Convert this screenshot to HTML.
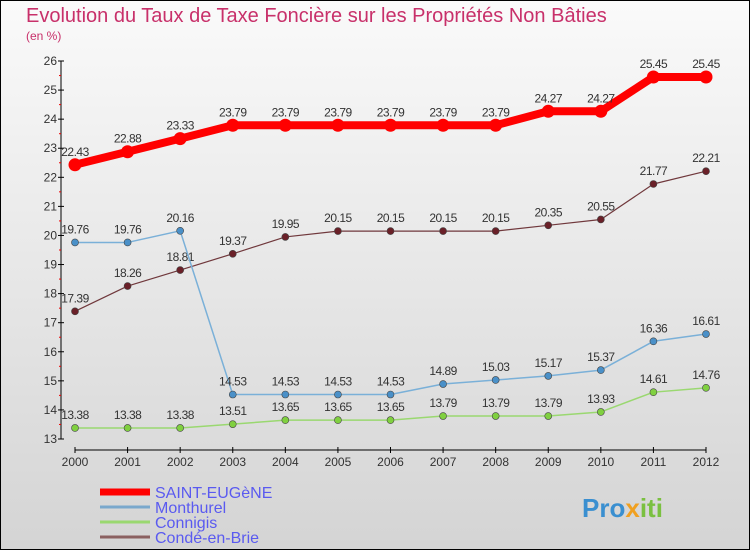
<!DOCTYPE html>
<html><head><meta charset="utf-8"><style>
body{margin:0}
svg{display:block;font-family:"Liberation Sans",sans-serif}
</style></head><body>
<svg id="c" width="750" height="550">
<defs><linearGradient id="bg" x1="0" y1="0" x2="0" y2="1"><stop offset="0" stop-color="#fafafa"/><stop offset="1" stop-color="#d4d4d4"/></linearGradient></defs>
<rect x="0.5" y="0.5" width="749" height="549" fill="url(#bg)" stroke="#000"/>
<text x="26" y="22" font-size="20" fill="#c8306a">Evolution du Taux de Taxe Foncière sur les Propriétés Non Bâties</text>
<text x="26" y="40" font-size="12" fill="#c8306a">(en %)</text>
<g id="axes"></g><g id="series"></g><g id="legend"></g>
<text x="582" y="517" font-size="26" font-weight="bold" fill="#3a8fd0">Pro<tspan fill="#f0a020">x</tspan><tspan fill="#7ac040">iti</tspan></text>
</svg>
<script>
const years=[2000,2001,2002,2003,2004,2005,2006,2007,2008,2009,2010,2011,2012];
const yTicks=[13,14,15,16,17,18,19,20,21,22,23,24,25,26];
const saint=[22.43,22.88,23.33,23.79,23.79,23.79,23.79,23.79,23.79,24.27,24.27,25.45,25.45];
const monthurel=[19.76,19.76,20.16,14.53,14.53,14.53,14.53,14.89,15.03,15.17,15.37,16.36,16.61];
const connigis=[13.38,13.38,13.38,13.51,13.65,13.65,13.65,13.79,13.79,13.79,13.93,14.61,14.76];
const conde=[17.39,18.26,18.81,19.37,19.95,20.15,20.15,20.15,20.15,20.35,20.55,21.77,22.21];
const NS='http://www.w3.org/2000/svg';
const X=i=>75+i*(706-75)/(years.length-1);
const Y=v=>439-(v-13)*(439-61)/13;
function mk(t,a,p){const e=document.createElementNS(NS,t);for(const k in a)e.setAttribute(k,a[k]);p.appendChild(e);return e;}
const ax=document.getElementById('axes');
let l=mk('line',{x1:61,y1:61,x2:61,y2:439,stroke:'#000'},ax);

l=mk('line',{x1:75,y1:450,x2:706,y2:450,stroke:'#000'},ax);

yTicks.forEach(v=>{mk('line',{x1:58,y1:Y(v),x2:64,y2:Y(v),stroke:'#000'},ax);
 if(v<26)mk('line',{x1:59,y1:Y(v+0.5),x2:61,y2:Y(v+0.5),stroke:'#e00'},ax);
 const t=mk('text',{x:57,y:Y(v)+4,'font-size':12,fill:'#333','text-anchor':'end'},ax);t.textContent=v;
 });
years.forEach((y,i)=>{mk('line',{x1:X(i),y1:447,x2:X(i),y2:453,stroke:'#000'},ax);
 const t=mk('text',{x:X(i),y:466,'font-size':12,fill:'#333','text-anchor':'middle'},ax);t.textContent=y;
 });
const sg=document.getElementById('series');
function series(vals,name,color,w,r,dot){
 const g=mk('g',{},sg);
 mk('polyline',{points:vals.map((v,i)=>X(i)+','+Y(v)).join(' '),fill:'none',stroke:color,'stroke-width':w,'stroke-linejoin':'round'},g);
 vals.forEach((v,i)=>{const c=mk('circle',{cx:X(i),cy:Y(v),r:r,fill:dot,stroke:'#444','stroke-width':r>4?0:0.6},g);
  
  const t=mk('text',{x:X(i),y:Y(v)-9,'font-size':12,fill:'#333','text-anchor':'middle','letter-spacing':'-0.5'},g);t.textContent=v.toFixed(2).replace(/0$/,'').replace(/\.$/,'');
  });
}
series(connigis,'connigis','#9ad870',1.5,3.5,'#80d040');
series(conde,'conde-en-brie','#70383c',1.2,3.5,'#6a2028');
series(monthurel,'monthurel','#7ab0d8',1.5,3.5,'#4a90c8');
series(saint,'saint-eugene','#f00',8,6.5,'#f00');
const lg=document.getElementById('legend');
[['SAINT-EUGèNE','#f00',7],['Monthurel','#7aa8cc',3],['Connigis','#9ad870',3],['Condé-en-Brie','#8a6060',3]].forEach((d,i)=>{
 const y=492+i*15;
 const g=mk('g',{},lg);
 mk('line',{x1:100,y1:y,x2:150,y2:y,stroke:d[1],'stroke-width':d[2]},g);
 const t=mk('text',{x:155,y:y+6,'font-size':16,fill:'#5a5af0'},g);t.textContent=d[0];
});
</script>
</body></html>
